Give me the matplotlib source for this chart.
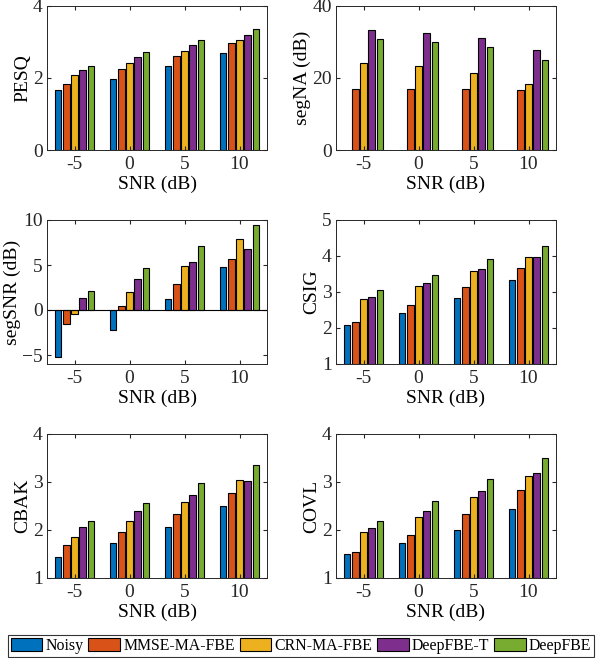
import numpy as np
import matplotlib
matplotlib.use("Agg")
import matplotlib.pyplot as plt

plt.rcParams["font.family"] = ["Liberation Serif", "DejaVu Serif"]
plt.rcParams["font.size"] = 14

snr_labels = ["-5", "0", "5", "10"]
methods = ["Noisy", "MMSE-MA-FBE", "CRN-MA-FBE", "DeepFBE-T", "DeepFBE"]
colors = ["#0072BD", "#D95319", "#EDB120", "#7E2F8E", "#77AC30"]

# rows: methods, columns: SNR -5, 0, 5, 10
pesq = [
    [1.67, 1.96, 2.32, 2.69],
    [1.82, 2.24, 2.61, 2.97],
    [2.07, 2.41, 2.74, 3.06],
    [2.21, 2.57, 2.92, 3.19],
    [2.33, 2.72, 3.06, 3.35],
]
segna = [
    [np.nan, np.nan, np.nan, np.nan],
    [16.9, 16.9, 16.9, 16.7],
    [24.1, 23.2, 21.5, 18.4],
    [33.3, 32.5, 31.0, 27.7],
    [30.8, 30.0, 28.5, 25.0],
]
segsnr = [
    [-5.2, -2.25, 1.18, 4.79],
    [-1.55, 0.44, 2.87, 5.64],
    [-0.44, 1.99, 4.9, 7.89],
    [1.29, 3.43, 5.31, 6.78],
    [2.1, 4.68, 7.08, 9.4],
]
csig = [
    [2.08, 2.43, 2.84, 3.33],
    [2.17, 2.63, 3.14, 3.66],
    [2.81, 3.17, 3.58, 3.98],
    [2.86, 3.24, 3.63, 3.98],
    [3.06, 3.47, 3.91, 4.29],
]
cbak = [
    [1.44, 1.72, 2.06, 2.51],
    [1.68, 1.95, 2.33, 2.77],
    [1.85, 2.18, 2.59, 3.04],
    [2.06, 2.39, 2.72, 3.03],
    [2.18, 2.56, 2.97, 3.36],
]
covl = [
    [1.49, 1.72, 2.01, 2.44],
    [1.55, 1.89, 2.33, 2.83],
    [1.95, 2.28, 2.69, 3.12],
    [2.04, 2.40, 2.81, 3.19],
    [2.19, 2.60, 3.07, 3.50],
]

panels = [
    (pesq, "PESQ", (0, 4), [0, 2, 4]),
    (segna, "segNA (dB)", (0, 40), [0, 20, 40]),
    (segsnr, "segSNR (dB)", (-6, 10), [-5, 0, 5, 10]),
    (csig, "CSIG", (1, 5), [1, 2, 3, 4, 5]),
    (cbak, "CBAK", (1, 4), [1, 2, 3, 4]),
    (covl, "COVL", (1, 4), [1, 2, 3, 4]),
]

W, H = 602, 658
fig = plt.figure(figsize=(W / 100, H / 100), dpi=100)

col_x = [47, 336]
ax_w = 220
row_y = [6, 220, 434]
ax_h = 144

x = np.arange(len(snr_labels))
step = 0.15
width = 0.125
bars = []
for i, (data, label, ylim, yticks) in enumerate(panels):
    r, c = divmod(i, 2)
    ax = fig.add_axes([col_x[c] / W, 1 - (row_y[r] + ax_h) / H, ax_w / W, ax_h / H])
    bottom = ylim[0] if ylim[0] > 0 else 0
    for k, vals in enumerate(data):
        vals = np.array(vals)
        b = ax.bar(x + (k - 2) * step, vals - bottom, width, bottom=bottom,
                   color=colors[k], edgecolor="black", linewidth=0.8, label=methods[k])
        if i == 0:
            bars.append(b)
    if ylim[0] < 0:
        ax.axhline(0, color="black", linewidth=0.8)
    ax.set_xlim(-0.5, 3.5)
    ax.set_ylim(*ylim)
    ax.set_yticks(yticks)
    ax.set_xticks(x)
    ax.set_xticklabels(snr_labels)
    ax.set_ylabel(label, labelpad=1)
    ax.set_xlabel("SNR (dB)", labelpad=2)
    ax.tick_params(direction="in", top=True, right=True, length=3, colors="#262626",
                   pad=4)
    ax.tick_params(axis="y", pad=3)
    for sp in ax.spines.values():
        sp.set_color("#262626")
        sp.set_linewidth(0.7)

leg = fig.legend(bars, methods, loc="lower center", ncol=5,
                 bbox_to_anchor=(0.5, 1 / H), frameon=True, fancybox=False,
                 edgecolor="black", handlelength=2.0, handleheight=0.85,
                 handletextpad=0.2, columnspacing=0.3, borderpad=0.2,
                 borderaxespad=0.0, fontsize=11.4)
leg.get_frame().set_linewidth(0.8)

fig.savefig("out.png", dpi=100)
